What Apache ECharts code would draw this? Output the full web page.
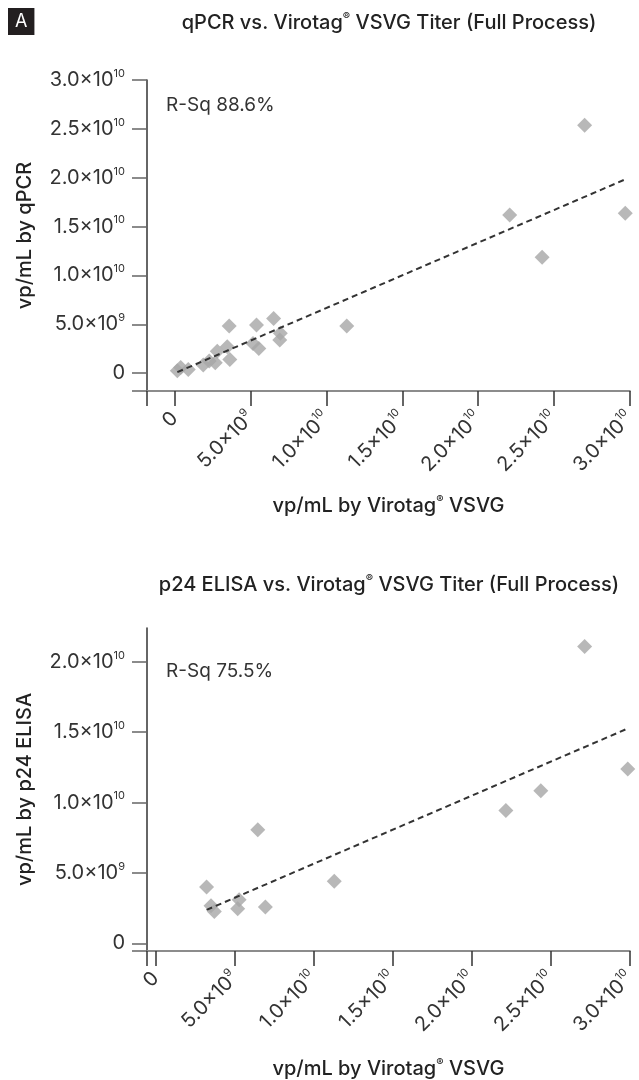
<!DOCTYPE html>
<html><head><meta charset="utf-8">
<script src="https://cdn.jsdelivr.net/npm/echarts@6/dist/echarts.min.js"></script>
<style>html,body{margin:0;padding:0;background:#fff}#c{width:639px;height:1080px}</style>
</head><body><div id="c"></div>
<script>
// ---- data (vp/mL) ----
const qpcrX = [0.17e9, 0.39e9, 0.89e9, 1.88e9, 2.27e9, 2.67e9, 2.80e9, 3.46e9, 3.63e9, 3.59e9, 5.16e9, 5.54e9, 5.39e9, 6.52e9, 6.96e9, 6.92e9, 11.34e9, 22.08e9, 24.22e9, 27.02e9, 29.70e9];
const qpcrY = [0.24e9, 0.58e9, 0.38e9, 0.82e9, 1.23e9, 1.06e9, 2.25e9, 2.70e9, 1.40e9, 4.82e9, 3.04e9, 2.53e9, 4.92e9, 5.60e9, 4.07e9, 3.38e9, 4.82e9, 16.19e9, 11.85e9, 25.38e9, 16.36e9];
const qpcrFitX = [0.17e9, 29.70e9];
const qpcrFitY = [0.10e9, 19.83e9];

const p24X = [3.22e9, 3.50e9, 3.71e9, 5.28e9, 5.19e9, 6.94e9, 11.30e9, 6.46e9, 22.16e9, 24.37e9, 27.14e9, 29.87e9];
const p24Y = [4.00e9, 2.67e9, 2.26e9, 3.10e9, 2.45e9, 2.57e9, 4.41e9, 8.06e9, 9.44e9, 10.83e9, 21.09e9, 12.38e9];
const p24FitX = [3.22e9, 29.87e9];
const p24FitY = [2.37e9, 15.26e9];

const xTickValues = [0, 5e9, 1e10, 1.5e10, 2e10, 2.5e10, 3e10];
const qpcrYTickValues = [0, 5e9, 1e10, 1.5e10, 2e10, 2.5e10, 3e10];
const p24YTickValues = [0, 5e9, 1e10, 1.5e10, 2e10];

const titles = ['qPCR vs. Virotag® VSVG Titer (Full Process)', 'p24 ELISA vs. Virotag® VSVG Titer (Full Process)'];
const rsq = ['R-Sq 88.6%', 'R-Sq 75.5%'];
const yNames = ['vp/mL by qPCR', 'vp/mL by p24 ELISA'];
const xName = 'vp/mL by Virotag® VSVG';

// ---- helpers ----
const FONT = 'Inter, "Noto Sans", sans-serif';
function sci(v) {
  if (v === 0) return '{b|0}';
  const e = Math.round(Math.log10(v) - 0.3);
  const m = v / Math.pow(10, e);
  return '{b|' + m.toFixed(1) + '×10}{s|' + e + '}';
}
function reg(t) { // small superscript ®
  return t.split('®').map(p => '{n|' + p + '}').join('{r|®}');
}
const labelRich = {
  b: {fontSize: 20, lineHeight: 24, color: '#333', fontFamily: FONT},
  s: {fontSize: 11, lineHeight: 14, verticalAlign: 'top', color: '#333', fontFamily: FONT}
};
function nameRich(size) {
  return {
    n: {fontSize: size, lineHeight: size + 4, color: '#222', fontFamily: FONT, fontWeight: 500},
    r: {fontSize: Math.round(size * 0.55), lineHeight: Math.round(size * 0.6), verticalAlign: 'top', color: '#222', fontFamily: FONT, fontWeight: 500}
  };
}
function pairs(xs, ys) { return xs.map((x, i) => [x, ys[i]]); }

const chart = echarts.init(document.getElementById('c'), null, {renderer: 'canvas'});

function xAxisCfg(gi, min, nameGap) {
  return {
    type: 'value', gridIndex: gi, min: min, max: 3e10,
    splitLine: {show: false},
    axisLine: {show: true, onZero: false, lineStyle: {color: '#8c8c8c', width: 2}},
    axisTick: {show: true, length: 15, lineStyle: {color: '#333', width: 1.5}, customValues: [min].concat(xTickValues)},
    axisLabel: {rotate: 45, margin: 24, customValues: xTickValues, formatter: sci, rich: labelRich},
    name: reg(xName), nameLocation: 'middle', nameGap: nameGap,
    nameTextStyle: {rich: nameRich(20)}
  };
}
function yAxisCfg(gi, min, max, ticks, name, nameGap) {
  return {
    type: 'value', gridIndex: gi, min: min, max: max,
    splitLine: {show: false},
    axisLine: {show: true, onZero: false, lineStyle: {color: '#333', width: 1.5}},
    axisTick: {show: true, length: 15, lineStyle: {color: '#666', width: 1.5}, customValues: [min].concat(ticks)},
    axisLabel: {margin: 22, customValues: ticks, formatter: sci, rich: labelRich},
    name: name, nameLocation: 'middle', nameGap: nameGap, nameRotate: 90,
    nameTextStyle: {fontSize: 20, fontWeight: 500, color: '#222', fontFamily: FONT}
  };
}

const option = {
  backgroundColor: '#fff',
  animation: false,
  title: [
    {text: 'A', left: 8, top: 8, padding: [5, 7, 4, 7], backgroundColor: '#231f20',
     textStyle: {color: '#fff', fontSize: 18, fontWeight: 400, fontFamily: FONT}},
    {text: reg(titles[0]), left: 389, top: 11, textAlign: 'center', padding: 0,
     textStyle: {rich: nameRich(20)}},
    {text: reg(titles[1]), left: 389, top: 573, textAlign: 'center', padding: 0,
     textStyle: {rich: nameRich(20)}},
    {text: rsq[0], left: 166, top: 96, padding: 0, textStyle: {fontSize: 19, fontWeight: 400, color: '#333', fontFamily: FONT}},
    {text: rsq[1], left: 166, top: 662, padding: 0, textStyle: {fontSize: 19, fontWeight: 400, color: '#333', fontFamily: FONT}}
  ],
  grid: [
    {left: 147, right: 8, top: 80, bottom: 689, containLabel: false},
    {left: 147, right: 8, top: 628, bottom: 121, containLabel: false}
  ],
  xAxis: [xAxisCfg(0, -1.83e9, 103), xAxisCfg(1, -0.55e9, 106)],
  yAxis: [
    yAxisCfg(0, -1.83e9, 3e10, qpcrYTickValues, yNames[0], 112),
    yAxisCfg(1, -0.55e9, 22.4e9, p24YTickValues, yNames[1], 112)
  ],
  series: [
    {type: 'scatter', xAxisIndex: 0, yAxisIndex: 0, symbol: 'diamond', symbolSize: 15,
     itemStyle: {color: '#a6a6a6'}, data: pairs(qpcrX, qpcrY), z: 2},
    {type: 'line', xAxisIndex: 0, yAxisIndex: 0, symbol: 'none', data: pairs(qpcrFitX, qpcrFitY),
     lineStyle: {color: '#333', width: 2, type: [6, 4]}, z: 3},
    {type: 'scatter', xAxisIndex: 1, yAxisIndex: 1, symbol: 'diamond', symbolSize: 15,
     itemStyle: {color: '#a6a6a6'}, data: pairs(p24X, p24Y), z: 2},
    {type: 'line', xAxisIndex: 1, yAxisIndex: 1, symbol: 'none', data: pairs(p24FitX, p24FitY),
     lineStyle: {color: '#333', width: 2, type: [6, 4]}, z: 3}
  ]
};
chart.setOption(option);
</script>
</body></html>
